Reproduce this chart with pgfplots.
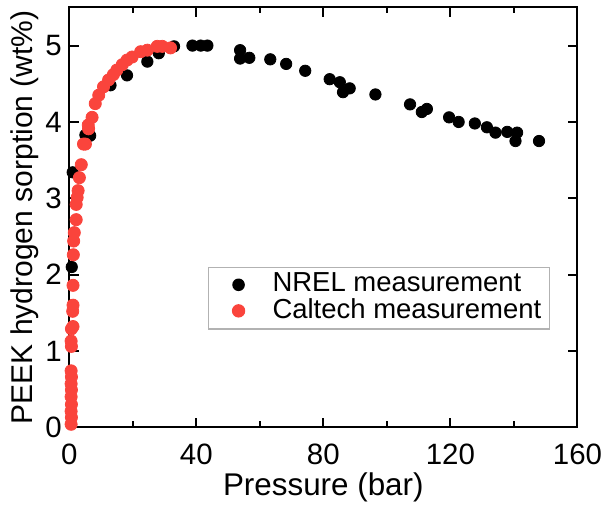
\documentclass[border=0pt]{standalone}
\usepackage{pgfplots}
\pgfplotsset{compat=1.18}
\usepackage{fontspec}
\setmainfont{Liberation Sans}
\definecolor{calred}{RGB}{250,68,60}
\begin{document}
\fontsize{16}{18}\selectfont
\begin{tikzpicture}
\begin{axis}[
  scale only axis,
  width=259pt, height=214pt,
  xmin=0, xmax=160, ymin=0, ymax=5.5,
  xtick={0,40,80,120,160},
  ytick={0,1,2,3,4,5},
  minor xtick={20,60,100,140},
  tick align=inside,
  major tick length=5pt,
  minor tick length=3pt,
  axis line style={line width=1pt},
  every tick/.style={black, line width=1pt},
  /pgf/number format/assume math mode=true,
  ticklabel style={font=\fontsize{15}{17}\selectfont},
  xticklabel style={yshift=-3pt, inner xsep=0pt},
  yticklabel style={inner xsep=0pt, xshift=-3.6pt},
  label style={font=\fontsize{16}{18}\selectfont},
  xlabel={Pressure (bar)},
  ylabel={PEEK hydrogen sorption (wt\%)},
  xlabel style={yshift=7pt},
  ylabel style={yshift=-2pt, font=\fontsize{15.3}{17}\selectfont},
  legend style={at={(0.273,0.383)}, anchor=north west, draw=gray!60, line width=0.6pt,
    font=\fontsize{14}{16}\selectfont, inner xsep=2pt, inner ysep=1pt, row sep=-3pt},
  legend cell align=left,
  legend image code/.code={\path (-4pt,0pt) (24pt,0pt); \draw plot coordinates {(9pt,0pt)};},
]
\addplot[only marks, mark=*, mark size=2.9pt, black] coordinates {
(0.8,2.1)(1.1,3.34)(5.1,3.83)(6.6,3.82)
(13,4.48)(18.2,4.61)(24.6,4.79)(28.2,4.90)
(33,4.99)(38.8,5.0)(41.4,5.0)(43.5,5.0)
(53.8,4.94)(53.8,4.83)(56.7,4.84)(63.3,4.82)(68.3,4.76)(74.3,4.67)
(82.0,4.56)(85.2,4.52)(86.2,4.39)(88.3,4.44)(96.4,4.36)(107.3,4.23)
(111.0,4.13)(112.6,4.17)(119.6,4.06)(122.6,4.0)(127.7,3.98)(131.5,3.93)
(134.2,3.86)(137.9,3.87)(141.0,3.86)(140.5,3.75)(147.9,3.75)
};
\addlegendentry{NREL measurement}
\addplot[only marks, mark=*, mark size=3.1pt, calred] coordinates {
(0.6,0.04)(0.7,0.13)(0.6,0.21)(0.7,0.30)(0.6,0.40)(0.7,0.49)(0.6,0.57)
(0.7,0.66)(0.6,0.74)(0.7,1.06)(0.6,1.13)(0.7,1.29)(1.2,1.32)(1.1,1.52)
(1.2,1.60)(1.2,1.86)(1.3,2.26)(1.4,2.44)(1.6,2.55)(2.2,2.72)(2.2,2.92)
(2.5,3.01)(2.8,3.10)(3.2,3.27)(3.8,3.44)(4.5,3.71)(5.1,3.71)(6.0,3.96)
(6.1,3.91)(7.2,4.06)(8.2,4.24)(9.3,4.35)(10.8,4.46)(12.4,4.55)(13.9,4.62)
(15,4.68)(16.7,4.75)(18.2,4.81)(19.8,4.85)(22.5,4.92)(24.6,4.94)(27.7,4.99)
(29.3,4.99)(31.9,4.97)
};
\addlegendentry{Caltech measurement}
\end{axis}
\end{tikzpicture}
\end{document}
